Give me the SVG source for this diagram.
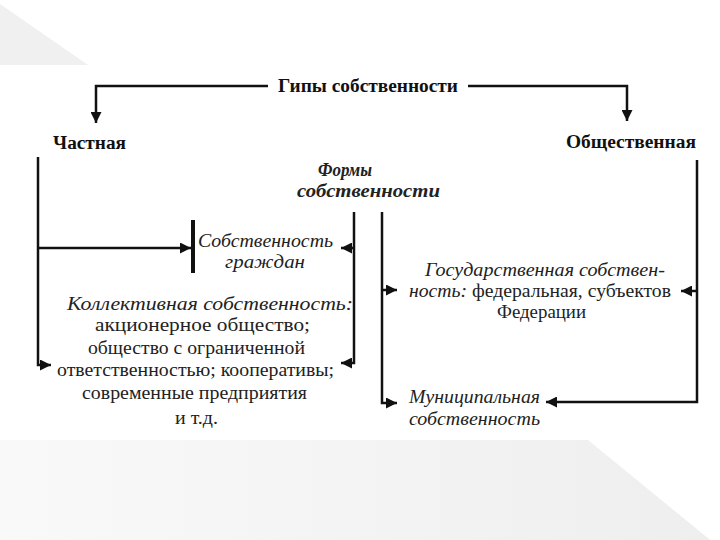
<svg xmlns="http://www.w3.org/2000/svg" width="720" height="540" viewBox="0 0 720 540">
<defs>
<linearGradient id="bg" x1="0" y1="0" x2="1" y2="0">
<stop offset="0" stop-color="#f9f9f9"/>
<stop offset="1" stop-color="#eeeeee"/>
</linearGradient>
<marker id="ar" viewBox="0 0 10 10" refX="10" refY="5" markerWidth="12" markerHeight="11" markerUnits="userSpaceOnUse" orient="auto">
<path d="M0,0 L10,5 L0,10 z" fill="#111"/>
</marker>
<style>
.ln{fill:none;stroke:#111;stroke-width:2.5}
.h{font-family:"Liberation Serif",serif;font-weight:bold;font-size:18px;fill:#111}
.t{font-family:"Liberation Serif",serif;font-size:19px;fill:#222}
.i{font-family:"Liberation Serif",serif;font-style:italic;font-size:19px;fill:#222}
.bi{font-family:"Liberation Serif",serif;font-style:italic;font-weight:bold;font-size:18px;fill:#222}
</style>
</defs>
<rect width="720" height="540" fill="#ffffff"/>
<polygon points="0,4 88,65 0,65" fill="#f0f0f0"/>
<polygon points="0,440 588,440 720,548 720,540 0,540" fill="url(#bg)"/>

<g id="connectors">
<path class="ln" d="M268,86 H96 V123" marker-end="url(#ar)"/>
<path class="ln" d="M468,86 H627 V121" marker-end="url(#ar)"/>
<path class="ln" d="M38,157 V365 H51" marker-end="url(#ar)"/>
<path class="ln" d="M38,248 H191" marker-end="url(#ar)"/>
<line x1="193" y1="220" x2="193" y2="273" stroke="#111" stroke-width="4"/>
<path class="ln" d="M354,212 V363 H341" marker-end="url(#ar)"/>
<path class="ln" d="M354,248 H341" marker-end="url(#ar)"/>
<path class="ln" d="M382,212 V403 H397" marker-end="url(#ar)"/>
<path class="ln" d="M382,290 H397" marker-end="url(#ar)"/>
<path class="ln" d="M697,160 V402 H546" marker-end="url(#ar)"/>
<path class="ln" d="M697,291 H681" marker-end="url(#ar)"/>
</g>

<g id="title"><text class="h" x="278" y="92" textLength="180" lengthAdjust="spacingAndGlyphs">Гипы собственности</text></g>
<g id="private"><text class="h" x="53" y="149" textLength="73" lengthAdjust="spacingAndGlyphs">Частная</text></g>
<g id="public"><text class="h" x="566" y="148" textLength="130" lengthAdjust="spacingAndGlyphs">Общественная</text></g>
<g id="forms">
<text class="bi" x="318" y="176" textLength="54" lengthAdjust="spacingAndGlyphs">Формы</text>
<text class="bi" x="297" y="197" textLength="143" lengthAdjust="spacingAndGlyphs">собственности</text>
</g>
<g id="citizens">
<text class="i" x="198" y="247" textLength="135" lengthAdjust="spacingAndGlyphs">Собственность</text>
<text class="i" x="225" y="268" textLength="80" lengthAdjust="spacingAndGlyphs">граждан</text>
</g>
<g id="collective">
<text class="i" x="67" y="310" textLength="286" lengthAdjust="spacingAndGlyphs">Коллективная собственность:</text>
<text class="t" x="95" y="331" textLength="215" lengthAdjust="spacingAndGlyphs">акционерное общество;</text>
<text class="t" x="88" y="354" textLength="217" lengthAdjust="spacingAndGlyphs">общество с ограниченной</text>
<text class="t" x="57" y="376" textLength="277" lengthAdjust="spacingAndGlyphs">ответственностью; кооперативы;</text>
<text class="t" x="82" y="399" textLength="225" lengthAdjust="spacingAndGlyphs">современные предприятия</text>
<text class="t" x="175" y="424" textLength="43" lengthAdjust="spacingAndGlyphs">и т.д.</text>
</g>
<g id="state">
<text class="i" x="425" y="276" textLength="240" lengthAdjust="spacingAndGlyphs">Государственная собствен-</text>
<text class="t" x="409" y="297" textLength="262" lengthAdjust="spacingAndGlyphs"><tspan class="i">ность:</tspan> федеральная, субъектов</text>
<text class="t" x="497" y="318" textLength="89" lengthAdjust="spacingAndGlyphs">Федерации</text>
</g>
<g id="municipal">
<text class="i" x="409" y="403" textLength="131" lengthAdjust="spacingAndGlyphs">Муниципальная</text>
<text class="i" x="409" y="425" textLength="131" lengthAdjust="spacingAndGlyphs">собственность</text>
</g>
</svg>
